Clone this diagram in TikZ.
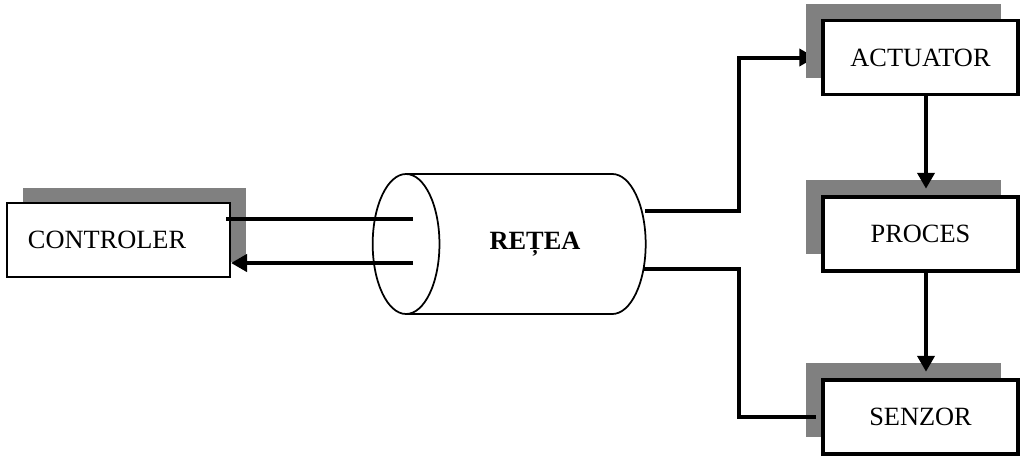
\documentclass[tikz,border=0pt]{standalone}
\usepackage{fontspec}
\setmainfont{Liberation Serif}
\usetikzlibrary{arrows.meta,positioning,shapes.geometric,shadows,backgrounds}
\definecolor{shadowgray}{HTML}{808080}
\tikzset{plain/.style={draw,fill=white,align=center,minimum height=14.8mm},block/.style={plain,line width=0.7mm,minimum width=39mm,drop shadow={shadow xshift=-3.4mm,shadow yshift=3.4mm,fill=shadowgray,opacity=1}},ctrlbox/.style={plain,line width=0.4mm,minimum width=44.6mm,text width=36.2mm,align=left,drop shadow={shadow xshift=3.2mm,shadow yshift=3.1mm,fill=shadowgray,opacity=1}},wire/.style={line width=0.8mm},arrow/.style={wire,-{Triangle[length=3.2mm,width=3.4mm]}}}

\begin{document}
\begin{tikzpicture}[x=0.2mm,y=-0.2mm,font=\fontsize{15}{18}\selectfont]
\useasboundingbox (0,0) rectangle (1022,458);
\node[ctrlbox] (ctrl) at (118.5,240) {CONTROLER};
\node[draw,cylinder,shape border rotate=180,aspect=5.7,minimum height=54.6mm,minimum width=28mm,line width=0.35mm,label={[xshift=0.4mm,font=\fontsize{15}{18}\selectfont\bfseries]center:REȚEA}] (net) at (533,244) {};
\node[block] (act) at (920.5,57.5) {ACTUATOR};
\node[block,below=19.8mm of act] (proc) {PROCES};
\node[block,below=21.1mm of proc] (sen) {SENZOR};
\coordinate (in1) at (413,219);
\coordinate (in2) at (413,263);
\coordinate (out1) at (645,211);
\coordinate (out2) at (643,269);
\coordinate (bus) at (739,244);
\draw[wire] ([xshift=-1mm]ctrl.east |- in1) -- (in1);
\draw[arrow] (in2) -- (in2 -| ctrl.east);
\begin{pgfonlayer}{background}
\draw[arrow,shorten >=1.2mm] (out1) -| (bus |- act.west) -- (act.west);
\end{pgfonlayer}
\draw[wire,shorten >=1mm] (out2) -| (bus |- sen.west) -- (sen.west);
\draw[arrow,shorten >=1.3mm] ([xshift=1.1mm]act.south) -- ([xshift=1.1mm]proc.north);
\draw[arrow,shorten >=1.3mm] ([xshift=1.1mm]proc.south) -- ([xshift=1.1mm]sen.north);
\end{tikzpicture}
\end{document}
